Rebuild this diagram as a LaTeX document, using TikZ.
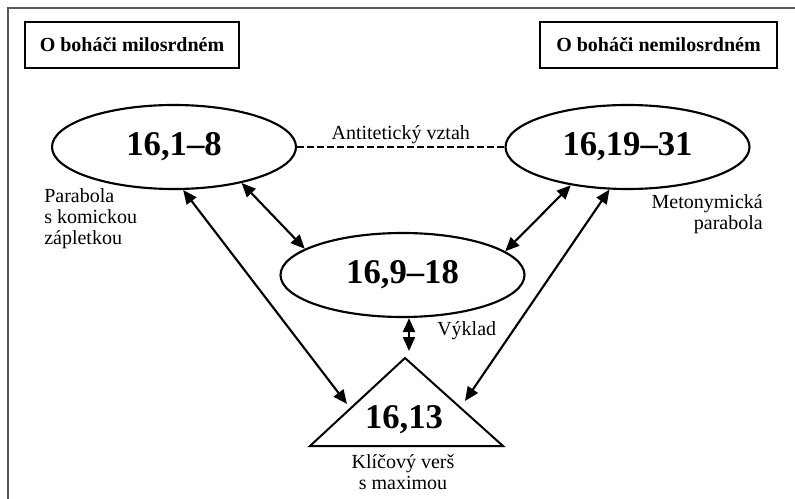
\documentclass[tikz,border=0pt]{standalone}
\usepackage{fontspec}
\setmainfont{Liberation Serif}
\usepackage{tikz}
\usetikzlibrary{shapes.geometric, arrows.meta}
\tikzset{
	titlebox/.style={rectangle, draw=black, line width=1.6pt, minimum height=34.5pt, inner xsep=9pt, font=\fontsize{15}{16}\selectfont\bfseries},
	passage/.style={ellipse, draw=black, line width=1.6pt, minimum width=183pt, minimum height=63pt, inner sep=0pt, font=\fontsize{26}{30}\selectfont\bfseries},
	note/.style={inner sep=0pt, font=\fontsize{15}{16}\selectfont},
	dblarrow/.style={line width=1.6pt, {Triangle[length=10.5pt,width=9pt]}-{Triangle[length=10.5pt,width=9pt]}}
}
\usetikzlibrary{positioning}

\begin{document}
\begin{tikzpicture}[x=0.75pt,y=-0.75pt]
		\useasboundingbox (0,0) rectangle (795,499);
		% Ramecek
		\draw[line width=1.2pt, black!65] (8,499) -- (8,8) -- (795,8);
		
		% Nadpisy
		\node[titlebox, minimum width=160pt] (hlavaL) at (132,45) {O boháči milosrdném};
		\node[titlebox, minimum width=178pt] (hlavaR) at (658.5,45) {O boháči nemilosrdném};
		
		% Perikopy
		\node[passage] (p1) at (174,147) {16,1–8};
		\node[passage] (p2) at (627.5,147) {16,19–31};
		\node[passage] (p3) at (402.5,275) {16,9–18};
		
		% Trojuhelnik
		\coordinate (T) at (405,358);
		\coordinate (TL) at (310,446);
		\coordinate (TR) at (503,446);
		\draw[line width=1.5pt, line join=miter] (T) -- (TR) -- (TL) -- cycle;
		\node[font=\fontsize{26}{30}\selectfont\bfseries, inner sep=0pt] (vers) at (404,420) {16,13};
		
		% Popisky
		\node[note, anchor=north west, align=left] (parL) at (44,188) {Parabola\\s komickou\\zápletkou};
		\node[note, anchor=north east, align=right] (parR) at (763,194) {Metonymická\\parabola};
		\node[note, anchor=north, align=center] (klic) at (403,454) {Klíčový verš\\s maximou};
		
		% Vztahy
		\draw[line width=1.2pt, dash pattern=on 5pt off 2.5pt] (p1.east) -- (p2.west)
			node[midway, above, font=\fontsize{15}{16}\selectfont, inner sep=2pt] (anti) {Antitetický vztah};
		
		\coordinate (tipL) at (347,404);
		\coordinate (tipR) at (465,401);
		\coordinate (vyk) at (409,351);
		
		\draw[dblarrow] (p1.-28) -- (p3.165);
		\draw[dblarrow] (p2.214) -- (p3.13);
		\draw[dblarrow] (p1.-78) -- (tipL);
		\draw[dblarrow] (p2.247) -- (tipR);
		\draw[dblarrow] (vyk |- p3.south) -- (vyk);
		\node[note, anchor=base west] (vyklad) at (437,335) {Výklad};
		
	\end{tikzpicture}
\end{document}
